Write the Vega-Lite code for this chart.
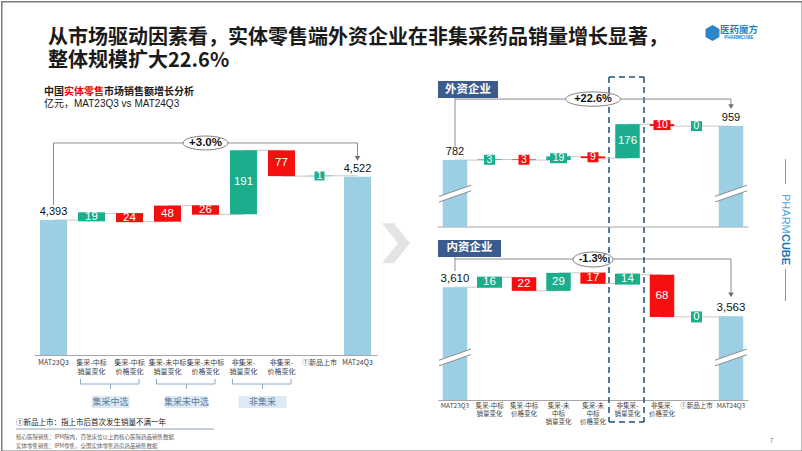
{
"$schema":"https://vega.github.io/schema/vega-lite/v6.json",
"background":"white",
"padding":0,
"config":{"view":{"stroke":null},"font":"Liberation Sans, Noto Sans CJK SC","axis":{"grid":false}},
"spacing":61,
"bounds":"flush",
"hconcat":[
{"width":343,"height":276,
"data":{"values":[
{"项目":"MAT23Q3","值":4393,"起点":0,"终点":4393,"类型":"总额","下一项":"集采-中标销量变化"},
{"项目":"集采-中标销量变化","值":19,"起点":4393,"终点":4412,"类型":"增长","下一项":"集采-中标价格变化"},
{"项目":"集采-中标价格变化","值":24,"起点":4412,"终点":4388,"类型":"下降","下一项":"集采-未中标销量变化"},
{"项目":"集采-未中标销量变化","值":48,"起点":4388,"终点":4436,"类型":"下降","下一项":"集采-未中标价格变化"},
{"项目":"集采-未中标价格变化","值":26,"起点":4436,"终点":4410,"类型":"下降","下一项":"非集采-销量变化"},
{"项目":"非集采-销量变化","值":191,"起点":4410,"终点":4601,"类型":"增长","下一项":"非集采-价格变化"},
{"项目":"非集采-价格变化","值":77,"起点":4601,"终点":4524,"类型":"下降","下一项":"①新品上市"},
{"项目":"①新品上市","值":1,"起点":4524,"终点":4525,"类型":"增长","下一项":"MAT24Q3"},
{"项目":"MAT24Q3","值":4522,"起点":0,"终点":4522,"类型":"总额"}]},
"layer":[
{"transform":[{"filter":"datum['下一项'] != null"}],
"mark":{"type":"rule","color":"#c9c9c9","strokeWidth":1},
"encoding":{
"x":{"field":"项目","type":"nominal","sort":null,"scale":{"domain":["MAT23Q3","集采-中标销量变化","集采-中标价格变化","集采-未中标销量变化","集采-未中标价格变化","非集采-销量变化","非集采-价格变化","①新品上市","MAT24Q3"],"paddingInner":0.29,"paddingOuter":0.158},
"axis":{"title":null,"labelAngle":0,"ticks":false,"domainColor":"#a6a6a6","domainWidth":1,"labelFontSize":7,"labelColor":"#404040","labelLineHeight":9,"labelPadding":3,"labelBaseline":"top","labelFont":"Noto Sans CJK SC","labelLimit":0,"labelOverlap":false,"labelExpr":"indexof(datum.label, '-') > 0 ? split(datum.label, regexp('(?=销量|价格)')) : datum.label"}},
"x2":{"field":"下一项"},
"y":{"field":"终点","type":"quantitative","scale":{"domain":[3990,4814],"nice":false,"zero":false},"axis":null}}},
{"mark":{"type":"bar","clip":true},
"encoding":{"x":{"field":"项目","type":"nominal"},"y":{"field":"起点","type":"quantitative"},"y2":{"field":"终点"},
"color":{"field":"类型","type":"nominal","scale":{"domain":["总额","增长","下降"],"range":["#9ccfe4","#1aae8c","#f50f0f"]},"legend":null}}},
{"transform":[{"filter":"datum['类型'] != '总额' && datum['值'] < 30"},{"calculate":"(datum['起点']+datum['终点'])/2","as":"中点"}],
"mark":{"type":"tick","thickness":9,"opacity":1,"orient":"horizontal"},
"encoding":{"x":{"field":"项目","type":"nominal"},"y":{"field":"中点","type":"quantitative"},"color":{"field":"类型","type":"nominal"},
"size":{"condition":{"test":"datum['值'] >= 10","value":27},"value":10}}},
{"transform":[{"filter":"datum['类型'] != '总额'"},{"calculate":"(datum['起点']+datum['终点'])/2","as":"中点"}],
"mark":{"type":"text","color":"white","fontSize":11.5,"baseline":"middle"},
"encoding":{"x":{"field":"项目","type":"nominal"},"y":{"field":"中点","type":"quantitative"},"text":{"field":"值","type":"quantitative"}}},
{"transform":[{"filter":"datum['类型'] == '总额'"}],
"mark":{"type":"text","color":"#111111","fontSize":11,"baseline":"bottom","dy":-3},
"encoding":{"x":{"field":"项目","type":"nominal"},"y":{"field":"终点","type":"quantitative"},"text":{"field":"值","type":"quantitative","format":",.0f"}}},
{"data":{"values":[{"起":"MAT23Q3","止":"MAT24Q3","增长率":"+3.0%"}]},
"layer":[
{"mark":{"type":"rule","color":"#8c8c8c"},"encoding":{"x":{"field":"起","type":"nominal"},"y":{"datum":4438,"type":"quantitative"},"y2":{"datum":4623}}},
{"mark":{"type":"rule","color":"#8c8c8c"},"encoding":{"x":{"field":"起","type":"nominal"},"x2":{"field":"止"},"y":{"datum":4623,"type":"quantitative"}}},
{"mark":{"type":"rule","color":"#8c8c8c"},"encoding":{"x":{"field":"止","type":"nominal"},"y":{"datum":4623,"type":"quantitative"},"y2":{"datum":4582}}},
{"mark":{"type":"point","shape":"triangle-down","filled":true,"opacity":1,"color":"#6e6e6e","size":30},"encoding":{"x":{"field":"止","type":"nominal"},"y":{"datum":4577,"type":"quantitative"}}},
{"mark":{"type":"point","shape":"M -1 0 A 1 0.31 0 1 1 1 0 A 1 0.31 0 1 1 -1 0 Z","filled":true,"fill":"white","stroke":"#7f7f7f","strokeWidth":1,"opacity":1,"size":2025},"encoding":{"x":{"datum":"集采-未中标价格变化","type":"nominal"},"y":{"datum":4623,"type":"quantitative"}}},
{"mark":{"type":"text","fontSize":11.5,"fontWeight":"bold","color":"#111111","baseline":"middle"},"encoding":{"x":{"datum":"集采-未中标价格变化","type":"nominal"},"y":{"datum":4623,"type":"quantitative"},"text":{"field":"增长率"}}}
]},
{"data":{"values":[{}]},
"layer":[
{"mark":{"type":"rule","color":"#7a7a7a","strokeWidth":1.5,"xOffset":-51.75},"encoding":{"x":{"datum":"MAT23Q3","type":"nominal"},"y":{"datum":5046.7,"type":"quantitative"},"y2":{"datum":3700.4}}},
{"mark":{"type":"rule","color":"#7a7a7a","strokeWidth":1.5,"xOffset":444.75},"encoding":{"x":{"datum":"MAT24Q3","type":"nominal"},"y":{"datum":5046.7,"type":"quantitative"},"y2":{"datum":3700.4}}},
{"mark":{"type":"rule","color":"#7a7a7a","strokeWidth":1.5,"xOffset":-52.5,"x2Offset":445.5},"encoding":{"x":{"datum":"MAT23Q3","type":"nominal"},"x2":{"datum":"MAT24Q3"},"y":{"datum":5044.5,"type":"quantitative"}}},
{"mark":{"type":"rule","color":"#7a7a7a","strokeWidth":1.5,"xOffset":-52.5,"x2Offset":445.5},"encoding":{"x":{"datum":"MAT23Q3","type":"nominal"},"x2":{"datum":"MAT24Q3"},"y":{"datum":3702.7,"type":"quantitative"}}},
{"mark":{"type":"text","text":["从市场驱动因素看，实体零售端外资企业在非集采药品销量增长显著，","整体规模扩大22.6%"],"align":"left","baseline":"middle","xOffset":-5.5,"fontSize":20,"fontWeight":"bold","font":"Noto Sans CJK SC","lineHeight":23,"color":"#1a1a1a"},
"encoding":{"x":{"datum":"MAT23Q3","type":"nominal"},"y":{"datum":4936,"type":"quantitative"}}},
{"mark":{"type":"text","text":"中国","align":"left","baseline":"middle","xOffset":-9.5,"fontSize":10,"fontWeight":"bold","font":"Noto Sans CJK SC","color":"#1a1a1a"},
"encoding":{"x":{"datum":"MAT23Q3","type":"nominal"},"y":{"datum":4775,"type":"quantitative"}}},
{"mark":{"type":"text","text":"实体零售","align":"left","baseline":"middle","xOffset":10.5,"fontSize":10,"fontWeight":"bold","font":"Noto Sans CJK SC","color":"#f00000"},
"encoding":{"x":{"datum":"MAT23Q3","type":"nominal"},"y":{"datum":4775,"type":"quantitative"}}},
{"mark":{"type":"text","text":"市场销售额增长分析","align":"left","baseline":"middle","xOffset":50.5,"fontSize":10,"fontWeight":"bold","font":"Noto Sans CJK SC","color":"#1a1a1a"},
"encoding":{"x":{"datum":"MAT23Q3","type":"nominal"},"y":{"datum":4775,"type":"quantitative"}}},
{"mark":{"type":"text","text":"亿元，MAT23Q3 vs MAT24Q3","align":"left","baseline":"middle","xOffset":-9.5,"fontSize":10,"color":"#1a1a1a"},
"encoding":{"x":{"datum":"MAT23Q3","type":"nominal"},"y":{"datum":4739,"type":"quantitative"}}},
{"mark":{"type":"point","shape":"M -0.75 -1 L 0.05 0 L -0.75 1 L -0.15 1 L 0.65 0 L -0.15 -1 Z","filled":true,"opacity":1,"color":"#e4e4e4","size":1600,"xOffset":39.5},
"encoding":{"x":{"datum":"MAT24Q3","type":"nominal"},"y":{"datum":4324,"type":"quantitative"}}},
{"mark":{"type":"rule","color":"#8da2b8","xOffset":-37.5,"x2Offset":46.5},
"encoding":{"x":{"datum":"MAT23Q3","type":"nominal"},"x2":{"datum":"集采-未中标销量变化"},"y":{"datum":3769,"type":"quantitative"}}},
{"mark":{"type":"text","text":"①新品上市：指上市后首次发生销量不满一年","align":"left","baseline":"middle","xOffset":-37.5,"fontSize":7.5,"font":"Noto Sans CJK SC","color":"#1a1a1a"},
"encoding":{"x":{"datum":"MAT23Q3","type":"nominal"},"y":{"datum":3787,"type":"quantitative"}}},
{"mark":{"type":"text","text":"核心医院销售：IPM院内，百张床位以上的核心医院药品销售数据","align":"left","baseline":"middle","xOffset":-37.5,"fontSize":5.5,"font":"Noto Sans CJK SC","color":"#595959"},
"encoding":{"x":{"datum":"MAT23Q3","type":"nominal"},"y":{"datum":3745,"type":"quantitative"}}},
{"mark":{"type":"text","text":"实体零售销售：IPM零售，全国实体零售药房药品销售数据","align":"left","baseline":"middle","xOffset":-37.5,"fontSize":5.5,"font":"Noto Sans CJK SC","color":"#595959"},
"encoding":{"x":{"datum":"MAT23Q3","type":"nominal"},"y":{"datum":3718,"type":"quantitative"}}}
]},
{"data":{"values":[
{"组":"集采中选","起":"集采-中标销量变化","止":"集采-中标价格变化"},
{"组":"集采未中选","起":"集采-未中标销量变化","止":"集采-未中标价格变化"},
{"组":"非集采","起":"非集采-销量变化","止":"非集采-价格变化"}]},
"layer":[
{"mark":{"type":"rule","color":"#8eabc9","xOffset":-11,"x2Offset":9.5},"encoding":{"x":{"field":"起","type":"nominal"},"x2":{"field":"止"},"y":{"datum":3903.4,"type":"quantitative"}}},
{"mark":{"type":"rule","color":"#8eabc9","xOffset":-11},"encoding":{"x":{"field":"起","type":"nominal"},"y":{"datum":3918.4,"type":"quantitative"},"y2":{"datum":3903.4}}},
{"mark":{"type":"rule","color":"#8eabc9","xOffset":9.5},"encoding":{"x":{"field":"止","type":"nominal"},"y":{"datum":3918.4,"type":"quantitative"},"y2":{"datum":3903.4}}},
{"mark":{"type":"rule","color":"#8eabc9","xOffset":19},"encoding":{"x":{"field":"起","type":"nominal"},"y":{"datum":3903.4,"type":"quantitative"},"y2":{"datum":3888.5}}},
{"mark":{"type":"tick","orient":"horizontal","thickness":12,"opacity":1,"color":"#dde9f4","xOffset":19},
"encoding":{"x":{"field":"起","type":"nominal"},"y":{"datum":3849.7,"type":"quantitative"},"size":{"field":"组","type":"ordinal","scale":{"domain":["集采中选","集采未中选","非集采"],"range":[38,48,40]},"legend":null}}},
{"mark":{"type":"text","fontSize":9,"color":"#5b7a99","font":"Noto Sans CJK SC","baseline":"middle","xOffset":19},
"encoding":{"x":{"field":"起","type":"nominal"},"y":{"datum":3849.7,"type":"quantitative"},"text":{"field":"组"}}}
]}
]},
{"width":310,"height":321,
"resolve":{"scale":{"y":"independent"}},
"layer":[
{"data":{"values":[
{"项目":"MAT23Q3","值":3610,"起点":0,"终点":3610,"类型":"总额","下一项":"集采-中标销量变化"},
{"项目":"集采-中标销量变化","值":16,"起点":3610,"终点":3626,"类型":"增长","下一项":"集采-中标价格变化"},
{"项目":"集采-中标价格变化","值":22,"起点":3626,"终点":3604,"类型":"下降","下一项":"集采-未中标销量变化"},
{"项目":"集采-未中标销量变化","值":29,"起点":3604,"终点":3633,"类型":"增长","下一项":"集采-未中标价格变化"},
{"项目":"集采-未中标价格变化","值":17,"起点":3633,"终点":3616,"类型":"下降","下一项":"非集采-销量变化"},
{"项目":"非集采-销量变化","值":14,"起点":3616,"终点":3630,"类型":"增长","下一项":"非集采-价格变化"},
{"项目":"非集采-价格变化","值":68,"起点":3630,"终点":3562,"类型":"下降","下一项":"①新品上市"},
{"项目":"①新品上市","值":0,"起点":3562,"终点":3562,"类型":"增长","下一项":"MAT24Q3"},
{"项目":"MAT24Q3","值":3563,"起点":0,"终点":3563,"类型":"总额"}]},
"layer":[
{"transform":[{"filter":"datum['下一项'] != null"}],
"mark":{"type":"rule","color":"#c9c9c9","strokeWidth":1},
"encoding":{
"x":{"field":"项目","type":"nominal","sort":null,"scale":{"domain":["MAT23Q3","集采-中标销量变化","集采-中标价格变化","集采-未中标销量变化","集采-未中标价格变化","非集采-销量变化","非集采-价格变化","①新品上市","MAT24Q3"],"paddingInner":0.29,"paddingOuter":0.138},
"axis":{"title":null,"labelAngle":0,"ticks":false,"domainColor":"#a6a6a6","domainWidth":1,"labelFontSize":6.5,"labelColor":"#404040","labelLineHeight":8,"labelPadding":2,"labelBaseline":"top","labelFont":"Noto Sans CJK SC","labelLimit":0,"labelOverlap":false,"labelExpr":"indexof(datum.label, '-') > 0 ? split(datum.label, regexp('(?<=未)|(?=销量|价格)')) : datum.label"}},
"x2":{"field":"下一项"},
"y":{"field":"终点","type":"quantitative","scale":{"domain":[3428,3945.7],"nice":false,"zero":false},"axis":null}}},
{"mark":{"type":"bar","clip":true},
"encoding":{"x":{"field":"项目","type":"nominal"},"y":{"field":"起点","type":"quantitative"},"y2":{"field":"终点"},
"color":{"field":"类型","type":"nominal","scale":{"domain":["总额","增长","下降"],"range":["#9ccfe4","#1aae8c","#f50f0f"]},"legend":null}}},
{"transform":[{"filter":"datum['类型'] != '总额' && datum['值'] < 20"},{"calculate":"(datum['起点']+datum['终点'])/2","as":"中点"}],
"mark":{"type":"tick","thickness":11,"opacity":1,"orient":"horizontal"},
"encoding":{"x":{"field":"项目","type":"nominal"},"y":{"field":"中点","type":"quantitative"},"color":{"field":"类型","type":"nominal"},
"size":{"condition":{"test":"datum['值'] >= 10","value":25},"value":11}}},
{"transform":[{"filter":"datum['类型'] != '总额'"},{"calculate":"(datum['起点']+datum['终点'])/2","as":"中点"}],
"mark":{"type":"text","color":"white","fontSize":11.5,"baseline":"middle"},
"encoding":{"x":{"field":"项目","type":"nominal"},"y":{"field":"中点","type":"quantitative"},"text":{"field":"值","type":"quantitative"}}},
{"transform":[{"filter":"datum['类型'] == '总额'"}],
"mark":{"type":"text","color":"#111111","fontSize":11.5,"baseline":"bottom","dy":-3},
"encoding":{"x":{"field":"项目","type":"nominal"},"y":{"field":"终点","type":"quantitative"},"text":{"field":"值","type":"quantitative","format":",.0f"}}},
{"transform":[{"filter":"datum['类型'] == '总额'"}],
"mark":{"type":"point","shape":"M -1 0.15 L 1 -0.55 L 1 -0.2 L -1 0.5 Z","filled":true,"opacity":1,"color":"white","size":1024},
"encoding":{"x":{"field":"项目","type":"nominal"},"y":{"datum":3496,"type":"quantitative"}}},
{"transform":[{"filter":"datum['类型'] == '总额'"}],
"mark":{"type":"point","shape":"M -1 0.15 L 1 -0.55 M -1 0.5 L 1 -0.2","filled":false,"opacity":1,"stroke":"#8c8c8c","strokeWidth":1,"size":1024},
"encoding":{"x":{"field":"项目","type":"nominal"},"y":{"datum":3496,"type":"quantitative"}}},
{"data":{"values":[{"起":"MAT23Q3","止":"MAT24Q3","增长率":"-1.3%","企业":"内资企业"}]},
"layer":[
{"mark":{"type":"rule","color":"#8c8c8c"},"encoding":{"x":{"field":"起","type":"nominal"},"y":{"datum":3658,"type":"quantitative"},"y2":{"datum":3636}}},
{"mark":{"type":"rule","color":"#8c8c8c"},"encoding":{"x":{"field":"起","type":"nominal"},"x2":{"field":"止"},"y":{"datum":3655.4,"type":"quantitative"}}},
{"mark":{"type":"rule","color":"#8c8c8c"},"encoding":{"x":{"field":"止","type":"nominal"},"y":{"datum":3655.4,"type":"quantitative"},"y2":{"datum":3601}}},
{"mark":{"type":"point","shape":"triangle-down","filled":true,"opacity":1,"color":"#6e6e6e","size":30},"encoding":{"x":{"field":"止","type":"nominal"},"y":{"datum":3597.5,"type":"quantitative"}}},
{"mark":{"type":"point","shape":"M -1 0 A 1 0.375 0 1 1 1 0 A 1 0.375 0 1 1 -1 0 Z","filled":true,"fill":"white","stroke":"#7f7f7f","strokeWidth":1,"opacity":1,"size":1600},"encoding":{"x":{"datum":"集采-未中标价格变化","type":"nominal"},"y":{"datum":3654.6,"type":"quantitative"}}},
{"mark":{"type":"text","fontSize":11,"fontWeight":"bold","color":"#111111","baseline":"middle"},"encoding":{"x":{"datum":"集采-未中标价格变化","type":"nominal"},"y":{"datum":3654.6,"type":"quantitative"},"text":{"field":"增长率"}}},
{"mark":{"type":"tick","orient":"horizontal","thickness":17,"opacity":1,"color":"#3b5b8c","xOffset":14.5},"encoding":{"x":{"field":"起","type":"nominal"},"y":{"datum":3672.4,"type":"quantitative"},"size":{"value":63}}},
{"mark":{"type":"text","fontSize":11.5,"fontWeight":"bold","color":"white","font":"Noto Sans CJK SC","baseline":"middle","xOffset":14.5},"encoding":{"x":{"field":"起","type":"nominal"},"y":{"datum":3672.4,"type":"quantitative"},"text":{"field":"企业"}}}
]},
{"data":{"values":[{}]},
"layer":[
{"mark":{"type":"rule","color":"#1f4e79","strokeWidth":1.5,"strokeDash":[6,4],"xOffset":-18.5},"encoding":{"x":{"datum":"非集采-销量变化","type":"nominal"},"y":{"datum":3949,"type":"quantitative"},"y2":{"datum":3392.5}}},
{"mark":{"type":"rule","color":"#1f4e79","strokeWidth":1.5,"strokeDash":[6,4],"xOffset":16.5},"encoding":{"x":{"datum":"非集采-销量变化","type":"nominal"},"y":{"datum":3949,"type":"quantitative"},"y2":{"datum":3392.5}}},
{"mark":{"type":"rule","color":"#1f4e79","strokeWidth":1.5,"strokeDash":[6,4],"xOffset":-18.5,"x2Offset":16.5},"encoding":{"x":{"datum":"非集采-销量变化","type":"nominal"},"x2":{"datum":"非集采-销量变化"},"y":{"datum":3392.5,"type":"quantitative"}}},
{"mark":{"type":"rule","color":"#1f4e79","strokeWidth":1.5,"strokeDash":[6,4],"xOffset":-18.5,"x2Offset":16.5},"encoding":{"x":{"datum":"非集采-销量变化","type":"nominal"},"x2":{"datum":"非集采-销量变化"},"y":{"datum":3949,"type":"quantitative"}}},
{"mark":{"type":"text","text":"7","fontSize":7,"color":"#7f7f7f","baseline":"middle","xOffset":40.5},"encoding":{"x":{"datum":"MAT24Q3","type":"nominal"},"y":{"datum":3362,"type":"quantitative"}}}
]}
]},
{"data":{"values":[
{"项目":"MAT23Q3","值":782,"起点":0,"终点":782,"类型":"总额","下一项":"集采-中标销量变化"},
{"项目":"集采-中标销量变化","值":3,"起点":782,"终点":785,"类型":"增长","下一项":"集采-中标价格变化"},
{"项目":"集采-中标价格变化","值":3,"起点":785,"终点":782,"类型":"下降","下一项":"集采-未中标销量变化"},
{"项目":"集采-未中标销量变化","值":19,"起点":782,"终点":801,"类型":"增长","下一项":"集采-未中标价格变化"},
{"项目":"集采-未中标价格变化","值":9,"起点":801,"终点":792,"类型":"下降","下一项":"非集采-销量变化"},
{"项目":"非集采-销量变化","值":176,"起点":792,"终点":968,"类型":"增长","下一项":"非集采-价格变化"},
{"项目":"非集采-价格变化","值":10,"起点":968,"终点":958,"类型":"下降","下一项":"①新品上市"},
{"项目":"①新品上市","值":0,"起点":958,"终点":958,"类型":"增长","下一项":"MAT24Q3"},
{"项目":"MAT24Q3","值":959,"起点":0,"终点":959,"类型":"总额"}]},
"layer":[
{"transform":[{"filter":"datum['下一项'] != null"}],
"mark":{"type":"rule","color":"#c9c9c9","strokeWidth":1},
"encoding":{
"x":{"field":"项目","type":"nominal"},
"x2":{"field":"下一项"},
"y":{"field":"终点","type":"quantitative","scale":{"domain":[-461.2,1202],"nice":false,"zero":false},"axis":null}}},
{"data":{"values":[{}]},"mark":{"type":"rule","color":"#a6a6a6","xOffset":-17,"x2Offset":17.5},
"encoding":{"x":{"datum":"MAT23Q3","type":"nominal"},"x2":{"datum":"MAT24Q3"},"y":{"datum":435,"type":"quantitative"}}},
{"transform":[{"filter":"datum['类型'] == '总额'"}],
"mark":{"type":"bar"},
"encoding":{"x":{"field":"项目","type":"nominal"},"y":{"field":"终点","type":"quantitative"},"y2":{"datum":435},
"color":{"field":"类型","type":"nominal","scale":{"domain":["总额","增长","下降"],"range":["#9ccfe4","#1aae8c","#f50f0f"]},"legend":null}}},
{"transform":[{"filter":"datum['类型'] != '总额'"}],
"mark":{"type":"bar"},
"encoding":{"x":{"field":"项目","type":"nominal"},"y":{"field":"起点","type":"quantitative"},"y2":{"field":"终点"},
"color":{"field":"类型","type":"nominal"}}},
{"transform":[{"filter":"datum['类型'] != '总额' && datum['值'] < 50"},{"calculate":"(datum['起点']+datum['终点'])/2","as":"中点"}],
"mark":{"type":"tick","thickness":10,"opacity":1,"orient":"horizontal"},
"encoding":{"x":{"field":"项目","type":"nominal"},"y":{"field":"中点","type":"quantitative"},"color":{"field":"类型","type":"nominal"},
"size":{"condition":{"test":"datum['值'] >= 10","value":17},"value":11}}},
{"transform":[{"filter":"datum['类型'] != '总额'"},{"calculate":"(datum['起点']+datum['终点'])/2","as":"中点"}],
"mark":{"type":"text","color":"white","baseline":"middle"},
"encoding":{"x":{"field":"项目","type":"nominal"},"y":{"field":"中点","type":"quantitative"},"text":{"field":"值","type":"quantitative"},
"size":{"condition":{"test":"datum['值'] >= 50","value":11.5},"value":10.5}}},
{"transform":[{"filter":"datum['类型'] == '总额'"}],
"mark":{"type":"text","color":"#111111","fontSize":11,"baseline":"bottom","dy":-3},
"encoding":{"x":{"field":"项目","type":"nominal"},"y":{"field":"终点","type":"quantitative"},"text":{"field":"值","type":"quantitative","format":",.0f"}}},
{"transform":[{"filter":"datum['类型'] == '总额'"}],
"mark":{"type":"point","shape":"M -1 0.15 L 1 -0.55 L 1 -0.2 L -1 0.5 Z","filled":true,"opacity":1,"color":"white","size":1024},
"encoding":{"x":{"field":"项目","type":"nominal"},"y":{"datum":606,"type":"quantitative"}}},
{"transform":[{"filter":"datum['类型'] == '总额'"}],
"mark":{"type":"point","shape":"M -1 0.15 L 1 -0.55 M -1 0.5 L 1 -0.2","filled":false,"opacity":1,"stroke":"#8c8c8c","strokeWidth":1,"size":1024},
"encoding":{"x":{"field":"项目","type":"nominal"},"y":{"datum":606,"type":"quantitative"}}},
{"data":{"values":[{"起":"MAT23Q3","止":"MAT24Q3","增长率":"+22.6%","企业":"外资企业"}]},
"layer":[
{"mark":{"type":"rule","color":"#8c8c8c"},"encoding":{"x":{"field":"起","type":"nominal"},"y":{"datum":1103,"type":"quantitative"},"y2":{"datum":844}}},
{"mark":{"type":"rule","color":"#8c8c8c"},"encoding":{"x":{"field":"起","type":"nominal"},"x2":{"field":"止"},"y":{"datum":1098,"type":"quantitative"}}},
{"mark":{"type":"rule","color":"#8c8c8c"},"encoding":{"x":{"field":"止","type":"nominal"},"y":{"datum":1098,"type":"quantitative"},"y2":{"datum":1066}}},
{"mark":{"type":"point","shape":"triangle-down","filled":true,"opacity":1,"color":"#6e6e6e","size":30},"encoding":{"x":{"field":"止","type":"nominal"},"y":{"datum":1059,"type":"quantitative"}}},
{"mark":{"type":"point","shape":"M -1 0 A 1 0.26 0 1 1 1 0 A 1 0.26 0 1 1 -1 0 Z","filled":true,"fill":"white","stroke":"#7f7f7f","strokeWidth":1,"opacity":1,"size":3025},"encoding":{"x":{"datum":"集采-未中标价格变化","type":"nominal"},"y":{"datum":1098,"type":"quantitative"}}},
{"mark":{"type":"text","fontSize":11,"fontWeight":"bold","color":"#111111","baseline":"middle"},"encoding":{"x":{"datum":"集采-未中标价格变化","type":"nominal"},"y":{"datum":1098,"type":"quantitative"},"text":{"field":"增长率"}}},
{"mark":{"type":"tick","orient":"horizontal","thickness":17,"opacity":1,"color":"#3b5b8c","xOffset":13},"encoding":{"x":{"field":"起","type":"nominal"},"y":{"datum":1147,"type":"quantitative"},"size":{"value":60}}},
{"mark":{"type":"text","fontSize":11.5,"fontWeight":"bold","color":"white","font":"Noto Sans CJK SC","baseline":"middle","xOffset":13},"encoding":{"x":{"field":"起","type":"nominal"},"y":{"datum":1147,"type":"quantitative"},"text":{"field":"企业"}}}
]},
{"data":{"values":[{}]},
"layer":[
{"mark":{"type":"point","shape":"M 0 -1 L 0.87 -0.5 L 0.87 0.5 L 0 1 L -0.87 0.5 L -0.87 -0.5 Z","filled":true,"opacity":1,"color":"#2a86c8","size":256,"xOffset":-18.5},"encoding":{"x":{"datum":"MAT24Q3","type":"nominal"},"y":{"datum":1440,"type":"quantitative"}}},
{"mark":{"type":"text","text":"医药魔方","fontSize":9.5,"fontWeight":"bold","color":"#1f7fc4","font":"Noto Sans CJK SC","baseline":"middle","xOffset":8},"encoding":{"x":{"datum":"MAT24Q3","type":"nominal"},"y":{"datum":1455,"type":"quantitative"}}},
{"mark":{"type":"text","text":"PHARMCUBE","fontSize":4.5,"fontWeight":"bold","color":"#1f7fc4","baseline":"middle","xOffset":8},"encoding":{"x":{"datum":"MAT24Q3","type":"nominal"},"y":{"datum":1414,"type":"quantitative"}}},
{"mark":{"type":"text","text":"PHARM","fontSize":11,"angle":90,"align":"left","baseline":"middle","color":"#4aa8dc","xOffset":54.5},"encoding":{"x":{"datum":"MAT24Q3","type":"nominal"},"y":{"datum":606,"type":"quantitative"}}},
{"mark":{"type":"text","text":"CUBE","fontSize":11,"fontWeight":"bold","angle":90,"align":"left","baseline":"middle","color":"#1b75bb","xOffset":54.5},"encoding":{"x":{"datum":"MAT24Q3","type":"nominal"},"y":{"datum":399,"type":"quantitative"}}},
{"mark":{"type":"rule","color":"#4aa8dc","xOffset":54.5},"encoding":{"x":{"datum":"MAT24Q3","type":"nominal"},"y":{"datum":787,"type":"quantitative"},"y2":{"datum":658}}},
{"mark":{"type":"rule","color":"#4aa8dc","xOffset":54.5},"encoding":{"x":{"datum":"MAT24Q3","type":"nominal"},"y":{"datum":217,"type":"quantitative"},"y2":{"datum":52}}}
]}
]}
]}
]
}
